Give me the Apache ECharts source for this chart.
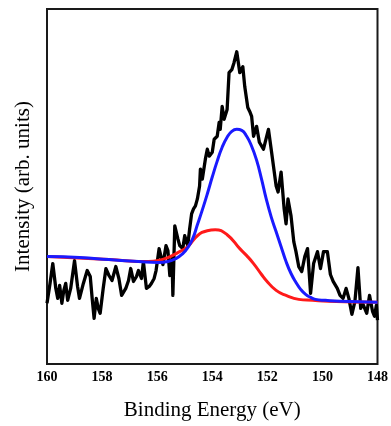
<!DOCTYPE html>
<html>
<head>
<meta charset="utf-8">
<script src="https://cdn.jsdelivr.net/npm/echarts@6/dist/echarts.min.js"></script>
<style>
  html, body { margin: 0; padding: 0; background: #fff; }
  #main { width: 391px; height: 426px; }
</style>
</head>
<body>
<div id="main"></div>
<script>
// measured spectrum (binding energy in eV, intensity in arb. units)
var rawEnergy = [
  160.00, 159.89, 159.79, 159.68, 159.61, 159.54, 159.46, 159.39, 159.32, 159.25,
  159.14, 159.00, 158.89, 158.82, 158.68, 158.54, 158.43, 158.36, 158.29, 158.21,
  158.14, 158.07, 157.96, 157.86, 157.75, 157.64, 157.50, 157.39, 157.29, 157.14,
  157.04, 156.96, 156.86, 156.75, 156.68, 156.57, 156.50, 156.39, 156.29, 156.21,
  156.11, 156.04, 155.93, 155.86, 155.79, 155.68, 155.61, 155.54, 155.46, 155.43,
  155.36, 155.25, 155.18, 155.07, 155.00, 154.89, 154.82, 154.75, 154.68, 154.61,
  154.54, 154.46, 154.43, 154.36, 154.25, 154.18, 154.11, 154.00, 153.93, 153.82,
  153.75, 153.71, 153.64, 153.57, 153.46, 153.39, 153.29, 153.21, 153.11, 153.00,
  152.89, 152.82, 152.71, 152.64, 152.57, 152.50, 152.39, 152.29, 152.14, 151.96,
  151.86, 151.68, 151.61, 151.50, 151.39, 151.32, 151.25, 151.14, 151.04, 150.96,
  150.86, 150.75, 150.64, 150.54, 150.43, 150.32, 150.18, 150.07, 149.96, 149.82,
  149.71, 149.61, 149.46, 149.36, 149.25, 149.14, 149.04, 148.93, 148.82, 148.71,
  148.61, 148.54, 148.39, 148.29, 148.18, 148.11, 148.04, 148.00
];
var rawCounts = [
  61, 81, 101, 76, 66, 79, 61, 74, 81, 64,
  76, 104, 78, 66, 81, 94, 88, 66, 46, 66,
  56, 51, 76, 96, 89, 84, 98, 86, 69, 76,
  84, 96, 83, 88, 94, 86, 103, 76, 78, 81,
  86, 94, 116, 118, 100, 119, 114, 89, 106, 69,
  139, 126, 119, 116, 129, 119, 136, 151, 156, 159,
  166, 179, 196, 186, 206, 216, 209, 213, 226, 229,
  243, 236, 259, 246, 256, 293, 296, 303, 314, 293,
  299, 279, 258, 254, 249, 229, 239, 223, 216, 236,
  216, 179, 173, 193, 156, 141, 166, 149, 123, 113,
  98, 93, 108, 116, 71, 101, 113, 96, 113, 113,
  90, 83, 76, 69, 66, 76, 66, 50, 63, 97,
  56, 61, 51, 69, 53, 48, 59, 44
];

// fitted envelope (blue)
var fitEnergy = [
  160.00, 158.82, 157.75, 156.68, 155.96, 155.61, 155.32, 155.07, 154.89, 154.71,
  154.54, 154.36, 154.18, 154.00, 153.82, 153.64, 153.46, 153.29, 153.11, 152.93,
  152.75, 152.57, 152.39, 152.21, 152.04, 151.86, 151.68, 151.50, 151.32, 151.14,
  150.96, 150.79, 150.61, 150.43, 150.25, 149.89, 149.36, 148.00
];
var fitCounts = [
  108, 107, 105, 103, 102, 103, 106, 111, 117, 126,
  140, 155, 171, 188, 204, 218, 228, 234, 236, 235,
  229, 219, 205, 186, 166, 148, 133, 118, 103, 91,
  82, 75, 70, 67, 65, 64, 63, 62
];

// second component (red)
var compEnergy = [
  160.00, 157.75, 156.32, 155.96, 155.61, 155.25, 154.89, 154.54, 154.18, 153.89,
  153.46, 153.00, 152.75, 152.50, 152.21, 152.04, 151.68, 151.32, 150.86, 150.36,
  149.79, 148.00
];
var compCounts = [
  108, 105, 103, 104, 107, 112, 118, 129, 134, 135,
  130, 116, 109, 101, 90, 84, 74, 69, 65, 64,
  63, 62
];

var xTicks = [148, 150, 152, 154, 156, 158, 160];

function pairs(xs, ys) {
  return xs.map(function (x, i) { return [x, ys[i]]; });
}

var chart = echarts.init(document.getElementById('main'), null, { renderer: 'canvas' });

var option = {
  animation: false,
  grid: {
    left: 47,
    right: 8,
    top: 9,
    bottom: 60,
    show: true,
    borderColor: '#1a1a1a',
    borderWidth: 2
  },
  xAxis: {
    type: 'value',
    inverse: true,
    min: xTicks[0],
    max: xTicks[xTicks.length - 1],
    interval: 2,
    name: 'Binding Energy (eV)',
    nameLocation: 'middle',
    nameGap: 36,
    nameTextStyle: {
      fontFamily: 'Liberation Serif',
      fontSize: 21,
      color: '#000'
    },
    axisLine: { show: false },
    axisTick: { show: false },
    splitLine: { show: false },
    axisLabel: {
      margin: 6,
      fontFamily: 'Liberation Serif',
      fontWeight: 'bold',
      fontSize: 14,
      color: '#000'
    }
  },
  yAxis: {
    type: 'value',
    min: 0,
    max: 357,
    name: 'Intensity (arb. units)',
    nameLocation: 'middle',
    nameGap: 13,
    nameTextStyle: {
      fontFamily: 'Liberation Serif',
      fontSize: 21,
      color: '#000'
    },
    axisLine: { show: false },
    axisTick: { show: false },
    axisLabel: { show: false },
    splitLine: { show: false }
  },
  series: [
    {
      name: 'raw',
      type: 'line',
      data: pairs(rawEnergy, rawCounts),
      showSymbol: false,
      lineStyle: { color: '#000', width: 3.3, join: 'round' }
    },
    {
      name: 'component',
      type: 'line',
      data: pairs(compEnergy, compCounts),
      smooth: true,
      showSymbol: false,
      lineStyle: { color: '#ff1a1a', width: 3 }
    },
    {
      name: 'fit',
      type: 'line',
      data: pairs(fitEnergy, fitCounts),
      smooth: true,
      showSymbol: false,
      lineStyle: { color: '#1a1aff', width: 3 }
    }
  ]
};

chart.setOption(option);
</script>
</body>
</html>
